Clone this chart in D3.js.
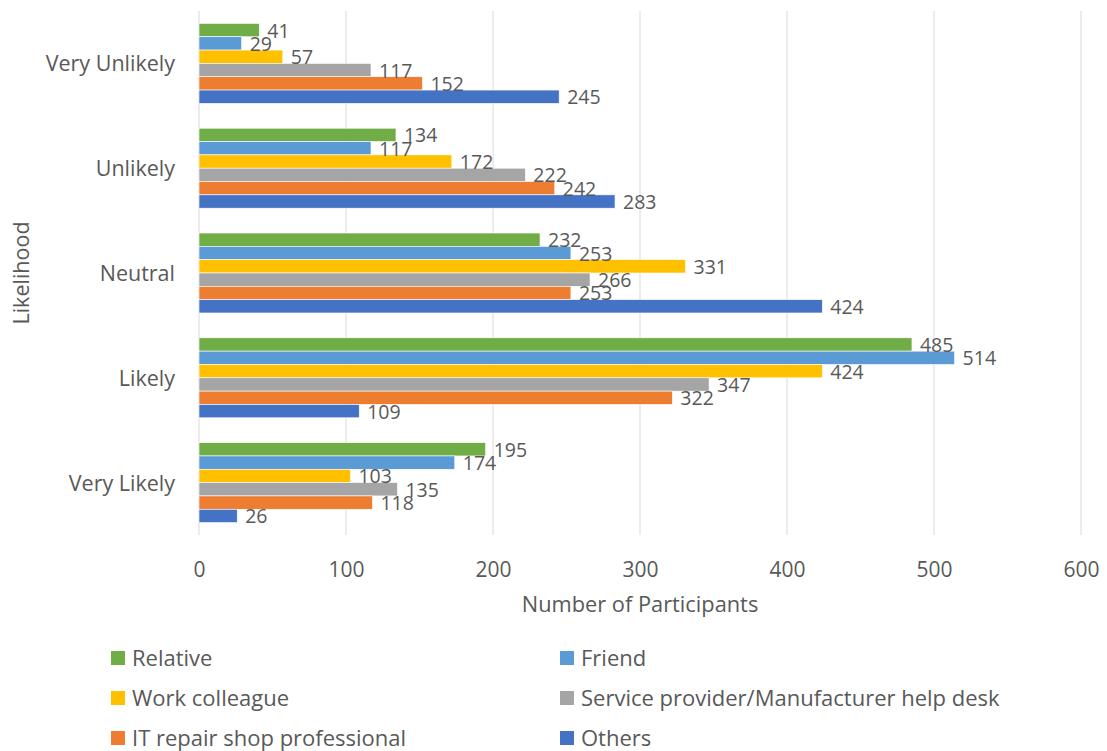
<!DOCTYPE html>
<html><head><meta charset="utf-8">
<script src="https://cdn.jsdelivr.net/npm/d3@7"></script>
<style>body{margin:0;background:#fff}svg{display:block}text{font-family:"Open Sans",sans-serif;fill:#595959}</style>
</head><body><svg id="c" width="1107" height="751"></svg>
<script>
const categories = ["Very Unlikely","Unlikely","Neutral","Likely","Very Likely"];
const seriesNames = ["Relative","Friend","Work colleague","Service provider/Manufacturer help desk","IT repair shop professional","Others"];
const relative = [41,134,232,485,195];
const friend = [29,117,253,514,174];
const workColleague = [57,172,331,424,103];
const serviceProvider = [117,222,266,347,135];
const itRepair = [152,242,253,322,118];
const others = [245,283,424,109,26];
const xTicks = [0,100,200,300,400,500,600];
const colors = ["#70AD47","#5B9BD5","#FFC000","#A5A5A5","#ED7D31","#4472C4"];
const seriesValues = [relative,friend,workColleague,serviceProvider,itRepair,others];

const svg = d3.select("#c");
const L=199, R=1081, T=11, B=535;
const x = d3.scaleLinear().domain([0,600]).range([L,R]);
const y0 = d3.scaleBand().domain(categories).range([T,B]).paddingInner(0.237).paddingOuter(0.1185);
const y1 = d3.scaleBand().domain(seriesNames).range([0,y0.bandwidth()]);

// gridlines
svg.append("g").selectAll("line").data(xTicks.slice(1)).join("line")
  .attr("x1",d=>x(d)).attr("x2",d=>x(d)).attr("y1",T).attr("y2",B)
  .attr("stroke","#d9d9d9").attr("stroke-width",1);
svg.append("line").attr("x1",L).attr("x2",L).attr("y1",T).attr("y2",B).attr("stroke","#d9d9d9");

// bars
const groups = svg.append("g").selectAll("g").data(categories).join("g")
  .attr("transform",d=>`translate(0,${y0(d)})`);
groups.each(function(cat,ci){
  const g=d3.select(this);
  const rows = seriesNames.map((s,si)=>({s,si,v:seriesValues[si][ci]}));
  g.selectAll("rect").data(rows).join("rect")
    .attr("x",L).attr("y",d=>y1(d.s)).attr("width",d=>x(d.v)-L).attr("height",y1.bandwidth())
    .attr("fill",d=>colors[d.si]).attr("stroke","#fff").attr("stroke-width",0.6);
  g.selectAll("text").data(rows).join("text")
    .attr("x",d=>x(d.v)+8).attr("y",d=>y1(d.s)+y1.bandwidth()/2+7.5)
    .attr("font-size",19.5).text(d=>d.v);
});

// y axis labels
svg.append("g").selectAll("text").data(categories).join("text")
  .attr("x",175).attr("y",d=>y0(d)+y0.bandwidth()/2+8).attr("text-anchor","end")
  .attr("font-size",21.5).text(d=>d);

// x axis
const xa = d3.axisBottom(x).tickValues(xTicks).tickSize(0).tickPadding(0);
const gx = svg.append("g").attr("transform",`translate(0,${B})`).call(xa);
gx.select(".domain").remove();
gx.selectAll("text").attr("y",42).attr("dy",0).attr("font-size",21).attr("fill","#595959")
  .style("font-family","'Open Sans',sans-serif");

svg.append("text").attr("x",640).attr("y",612).attr("text-anchor","middle").attr("font-size",21.8).text("Number of Participants");
svg.append("text").attr("transform","translate(29,273) rotate(-90)").attr("text-anchor","middle").attr("font-size",21.5).text("Likelihood");

// legend
const legPos = [[111,658],[560,658],[111,698],[560,698],[111,738],[560,738]];
const lg = svg.append("g").selectAll("g").data(seriesNames).join("g")
  .attr("transform",(d,i)=>`translate(${legPos[i][0]},${legPos[i][1]})`);
lg.append("rect").attr("x",0).attr("y",-7).attr("width",14).attr("height",14).attr("fill",(d,i)=>colors[i]);
lg.append("text").attr("x",21).attr("y",8).attr("font-size",22).text(d=>d);
</script></body></html>
